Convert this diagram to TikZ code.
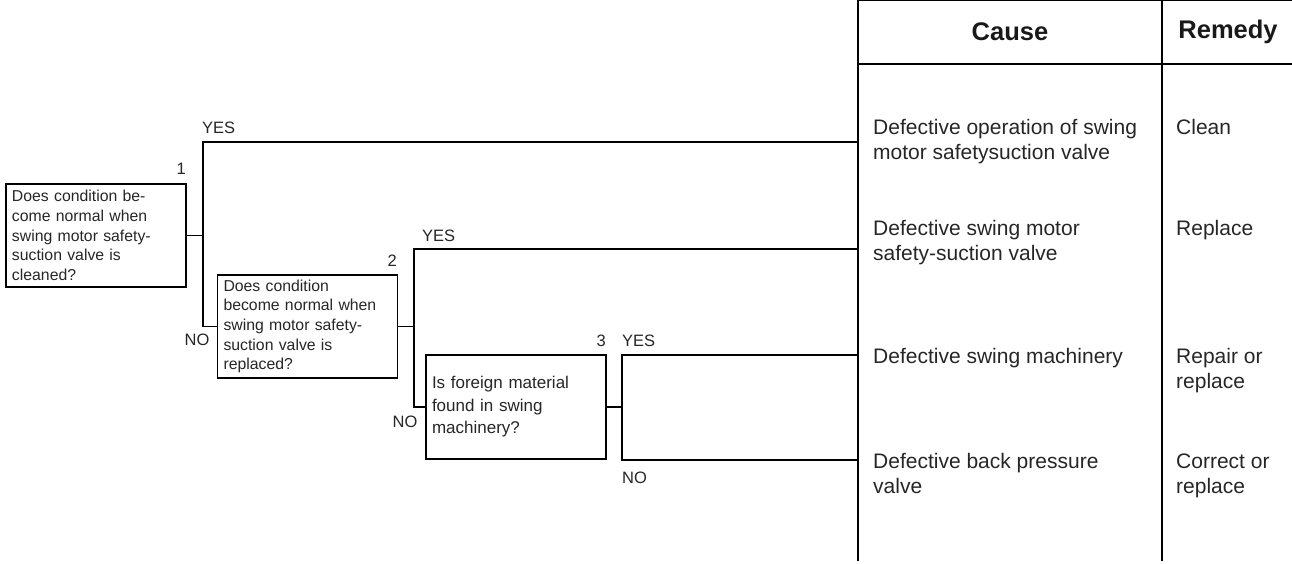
\documentclass[tikz,border=0pt]{standalone}
\usepackage{fontspec}
\setmainfont{Liberation Sans}
\begin{document}
\begin{tikzpicture}[x=1pt,y=-1pt,
  line/.style={draw=black,line width=1.1pt},
  qbox/.style={draw=black,line width=1.1pt,rectangle,align=left,inner xsep=6pt,inner ysep=0pt,
    font=\fontsize{15.8}{19.6}\selectfont,text=black!85},
  qboxb/.style={qbox,font=\fontsize{17}{22.5}\selectfont},
  lbl/.style={inner sep=0pt,font=\fontsize{16.5}{19}\selectfont,text=black!85},
  hdr/.style={inner sep=0pt,font=\bfseries\fontsize{25.5}{30}\selectfont,text=black!90},
  cell/.style={inner sep=0pt,align=left,anchor=base west,font=\fontsize{21}{25}\selectfont,text=black!85}]
\useasboundingbox (0,0) rectangle (1292,563);

% question boxes
\node[qbox,text width=168pt,minimum height=103pt] (b1) at (96,235.5)
  {Does condition be-\\come normal when\\swing motor safety-\\suction valve is\\cleaned?};
\node[qbox,text width=168pt,minimum height=103pt] (b2) at (307.5,326.5)
  {Does condition\\become normal when\\swing motor safety-\\suction valve is\\replaced?};
\node[qboxb,text width=168pt,minimum height=104pt] (b3) at (516,407)
  {Is foreign material\\found in swing\\machinery?};

% table
\coordinate (tl) at (858,0);
\coordinate (tr) at (1292,0);
\coordinate (bl) at (858,561);
\coordinate (hl) at (858,64);
\coordinate (hr) at (1292,64);
\coordinate (mt) at (1162,0);
\coordinate (mb) at (1162,561);
\draw[line] (tr) -- (tl) -- (bl);
\draw[line] (hl) -- (hr);
\draw[line] (mt) -- (mb);

\node[hdr] (hcause) at (1010,32) {Cause};
\node[hdr] (hremedy) at (1228,32) {Remedy};

% (base anchor = baseline of the last line)
\node[cell] (c1t) at (873,159) {Defective operation of swing\\motor safetysuction valve};
\node[cell] (c2t) at (873,260) {Defective swing motor\\safety-suction valve};
\node[cell] (c3t) at (873,363) {Defective swing machinery};
\node[cell] (c4t) at (873,493) {Defective back pressure\\valve};
\node[cell] (r1t) at (1176,134) {Clean};
\node[cell] (r2t) at (1176,235) {Replace};
\node[cell] (r3t) at (1176,388) {Repair or\\replace};
\node[cell] (r4t) at (1176,493) {Correct or\\replace};

% connector end points at the table
\coordinate (c1) at (858,142);
\coordinate (c2) at (858,249);
\coordinate (c3) at (858,355);
\coordinate (c4) at (858,460);
\coordinate (j1) at (203,235.5);
\coordinate (j2) at (414,326.5);
\coordinate (j3) at (622,407);

\draw[line] (b1.east) -- (j1);
\draw[line] (c1) -| (j1) |- (b2.west);
\draw[line] (b2.east) -- (j2);
\draw[line] (c2) -| (j2) |- (b3.west);
\draw[line] (b3.east) -- (j3);
\draw[line] (c3) -| (j3) |- (c4);

% labels
\node[lbl,anchor=west] (yes1) at (202,128) {YES};
\node[lbl,anchor=east] (n1) at (186,169) {1};
\node[lbl] (no1) at (197,340) {NO};
\node[lbl,anchor=west] (yes2) at (422,236) {YES};
\node[lbl,anchor=east] (n2) at (397,261) {2};
\node[lbl] (no2) at (405,422) {NO};
\node[lbl,anchor=east] (n3) at (606,341) {3};
\node[lbl,anchor=west] (yes3) at (622,341) {YES};
\node[lbl,anchor=west] (no3) at (622,478) {NO};
\end{tikzpicture}
\end{document}
